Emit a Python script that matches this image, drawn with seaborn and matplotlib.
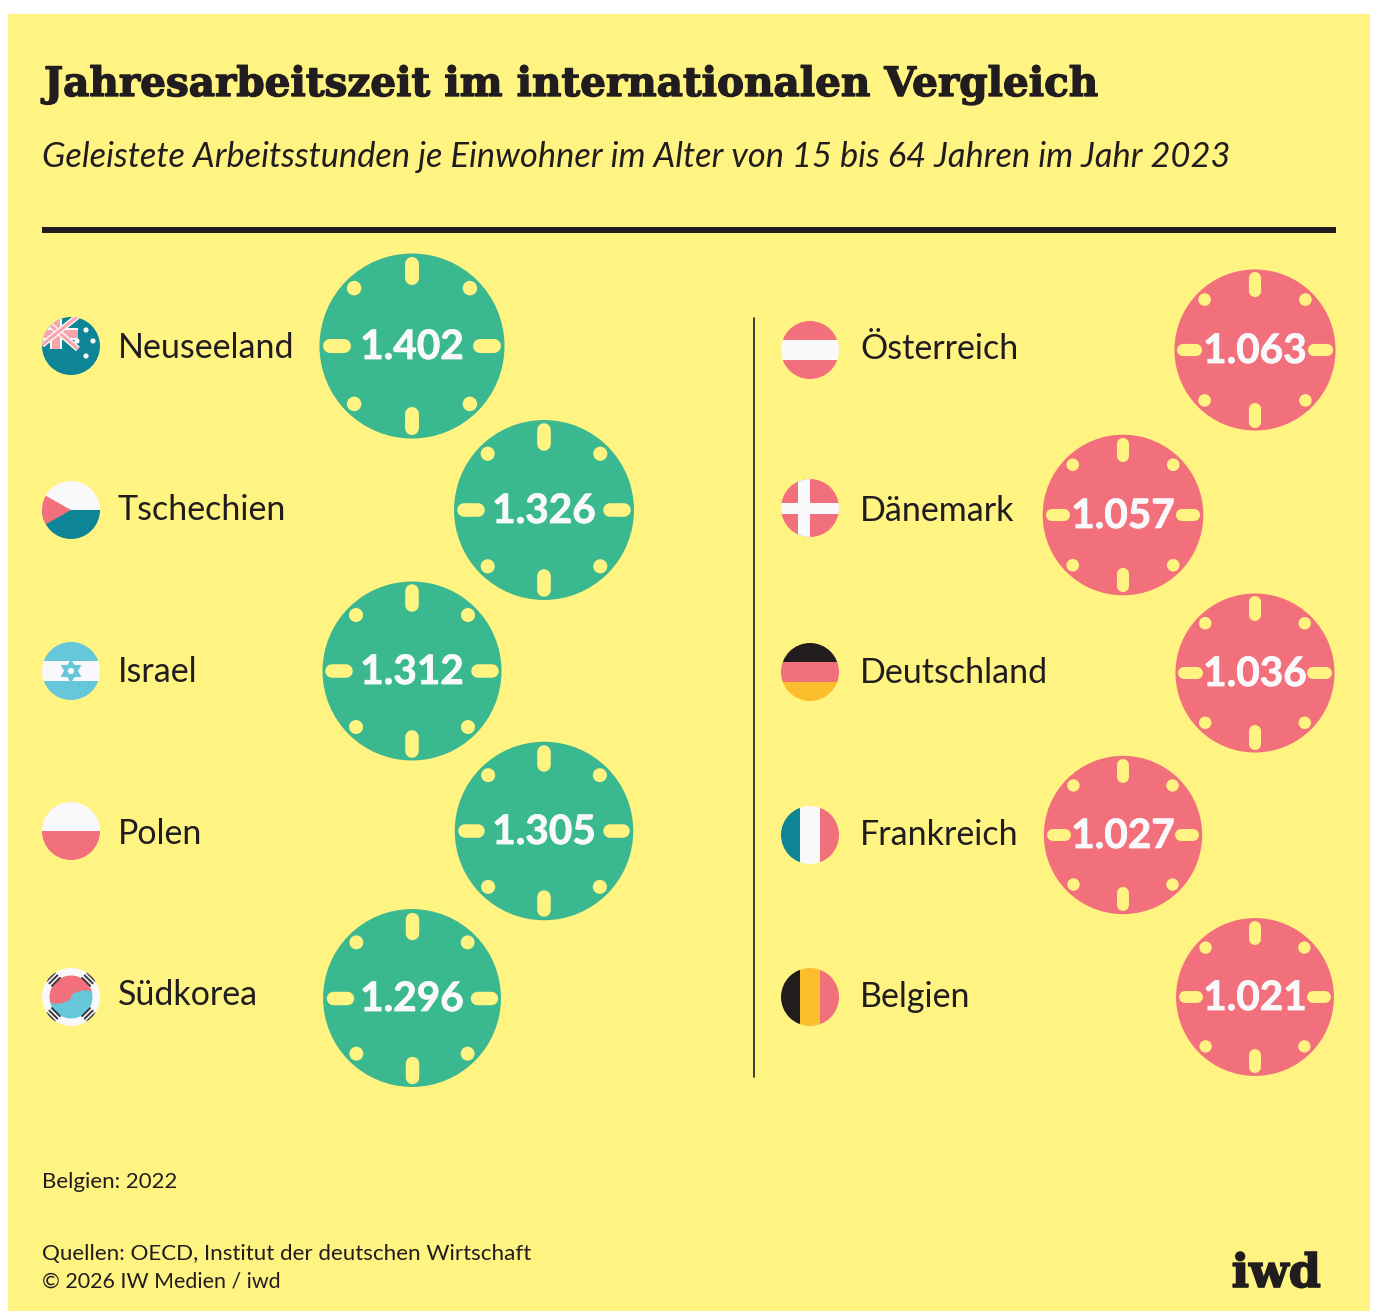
import numpy as np
import pandas as pd
import matplotlib.pyplot as plt
import matplotlib.patheffects as pe
from matplotlib.patches import Rectangle, Circle, Wedge, Polygon, RegularPolygon, Ellipse
import seaborn as sns

# --- data ---
countries_left = ["Neuseeland", "Tschechien", "Israel", "Polen", "Südkorea"]
hours_left = [1402, 1326, 1312, 1305, 1296]
countries_right = ["Österreich", "Dänemark", "Deutschland", "Frankreich", "Belgien"]
hours_right = [1063, 1057, 1036, 1027, 1021]

# --- layout (pixels of the 1375x1311 canvas) ---
BUBBLE_X_LEFT = [412, 544, 412, 544, 412]
BUBBLE_Y_LEFT = [346, 510, 671, 831, 998]
BUBBLE_X_RIGHT = [1255, 1123, 1255, 1123, 1255]
BUBBLE_Y_RIGHT = [350, 515, 673, 835, 997]
FLAG_Y_LEFT = [346, 510, 671, 831, 997]
FLAG_Y_RIGHT = [350, 508, 672, 835, 997]
LABEL_Y_LEFT = [358, 520, 682, 844, 1005]
LABEL_Y_RIGHT = [359, 521, 683, 845, 1007]
FLAG_X = {"left": 71, "right": 810}
LABEL_X = {"left": 118, "right": 860}
FLAG_R = 29

YELLOW = "#FFF382"
GREEN = "#3AB890"
RED = "#F26F7C"
TEAL = "#0E8596"
SKY = "#66C7DA"
PINK = "#F6A5AB"
INK = "#211D1F"
WHITE = "#F9F9FB"
GOLD = "#FDBE2E"
BODY_FONT = "Lato"


def pt(px):
    return px * 0.72


def stripes(ax, cx, cy, colors, clip, vertical=False):
    edges = np.linspace(-FLAG_R, FLAG_R, len(colors) + 1)
    for c, a, b in zip(colors, edges[:-1], edges[1:]):
        if vertical:
            r = Rectangle((cx + a, cy - FLAG_R), b - a, 2 * FLAG_R, fc=c, lw=0)
        else:
            r = Rectangle((cx - FLAG_R, cy + a), 2 * FLAG_R, b - a, fc=c, lw=0)
        ax.add_patch(r)
        r.set_clip_path(clip)


def draw_flag(ax, name, cx, cy):
    clip = Circle((cx, cy), FLAG_R, transform=ax.transData)

    def add(p):
        ax.add_patch(p)
        p.set_clip_path(clip)

    if name == "Neuseeland":
        stripes(ax, cx, cy, [TEAL], clip)
        # union jack: mostly pink with a thin white fringe
        for a, b in [((-29, -28), (7, 3)), ((-29, -1), (7, -30))]:
            ax.plot([cx + a[0], cx + b[0]], [cy + a[1], cy + b[1]], color=WHITE, lw=4.2, clip_path=clip,
                    solid_capstyle="butt")
            ax.plot([cx + a[0], cx + b[0]], [cy + a[1], cy + b[1]], color=PINK, lw=2.2, clip_path=clip,
                    solid_capstyle="butt")
        add(Rectangle((cx - 29, cy - 18), 36, 12, fc=WHITE, lw=0))
        add(Rectangle((cx - 21, cy - 30), 12, 33, fc=WHITE, lw=0))
        add(Rectangle((cx - 29, cy - 16), 36, 8, fc=PINK, lw=0))
        add(Rectangle((cx - 19, cy - 30), 8, 33, fc=PINK, lw=0))
        for dx, dy in [(15, -16), (6, -5), (22, -5), (15, 10)]:
            ax.add_patch(Circle((cx + dx, cy + dy), 2.6, fc=WHITE, lw=0))
    elif name == "Tschechien":
        stripes(ax, cx, cy, [WHITE, TEAL], clip)
        add(Polygon([(cx - 30, cy - 17), (cx, cy), (cx - 30, cy + 17)], fc=RED, lw=0))
    elif name == "Israel":
        stripes(ax, cx, cy, [SKY, WHITE, SKY], clip)
        for ang in [0, np.pi]:
            ax.add_patch(RegularPolygon((cx, cy), 3, radius=9, orientation=ang, fc="none", ec=SKY, lw=2.2))
    elif name == "Polen":
        stripes(ax, cx, cy, [WHITE, RED], clip)
    elif name == "Südkorea":
        stripes(ax, cx, cy, [WHITE], clip)
        ax.add_patch(Wedge((cx, cy), 21.5, -12, 168, fc=SKY, lw=0))
        ax.add_patch(Wedge((cx, cy), 21.5, 168, 348, fc=RED, lw=0))
        ax.add_patch(Ellipse((cx - 10.5, cy + 2.2), 21.5, 8, angle=-12, fc=RED, lw=0))
        ax.add_patch(Ellipse((cx + 10.5, cy - 2.2), 21.5, 8, angle=-12, fc=SKY, lw=0))
        for sx, sy in [(-1, -1), (1, -1), (-1, 1), (1, 1)]:
            for off in [21, 24.5, 28]:
                mx, my = cx + sx * off * 0.72, cy + sy * off * 0.72
                ax.plot([mx - sx * 4, mx + sx * 4], [my + sy * 4, my - sy * 4], color="#39393B", lw=1.4,
                        clip_path=clip)
    elif name == "Österreich":
        stripes(ax, cx, cy, [RED, WHITE, RED], clip)
    elif name == "Dänemark":
        stripes(ax, cx, cy, [RED], clip)
        add(Rectangle((cx - 29, cy - 5.5), 58, 11.5, fc=WHITE, lw=0))
        add(Rectangle((cx - 12, cy - 29), 12, 58, fc=WHITE, lw=0))
    elif name == "Deutschland":
        stripes(ax, cx, cy, [INK, RED, GOLD], clip)
    elif name == "Frankreich":
        stripes(ax, cx, cy, [TEAL, WHITE, RED], clip, vertical=True)
    elif name == "Belgien":
        stripes(ax, cx, cy, [INK, GOLD, RED], clip, vertical=True)


def draw_side(ax, side, names, hours, xs, ys, fys, lys, color):
    df = pd.DataFrame({"x": xs, "y": ys, "hours": hours})
    # circle area follows the hours; 1402 h gives a diameter of 185 px
    k = pt(185) ** 2 / 1402
    sns.scatterplot(data=df, x="x", y="y", size="hours", sizes={v: k * v for v in hours},
                    color=color, linewidth=0, legend=False, ax=ax, zorder=3)

    dots = []
    for x, y, v in zip(xs, ys, hours):
        R = 92.5 * np.sqrt(v / 1402)
        w = pt(14 * R / 92.5)
        for ang in np.arange(0, 2 * np.pi, np.pi / 2):
            # round caps add half the width on each end
            r0, r1 = 0.66 * R + 7 * R / 92.5, 0.965 * R - 7 * R / 92.5
            ax.plot([x + r0 * np.cos(ang), x + r1 * np.cos(ang)], [y + r0 * np.sin(ang), y + r1 * np.sin(ang)],
                    color=YELLOW, lw=w, solid_capstyle="round", zorder=4)
        for ang in np.arange(np.pi / 4, 2 * np.pi, np.pi / 2):
            dots.append((x + 0.885 * R * np.cos(ang), y + 0.885 * R * np.sin(ang), R))
        ax.text(x, y + 13, f"{v // 1000}.{v % 1000:03d}", color=WHITE, family=BODY_FONT, weight="bold",
                fontsize=pt(40.5), ha="center", va="baseline", zorder=5,
                path_effects=[pe.withStroke(linewidth=0.6, foreground=WHITE)])
    dots = pd.DataFrame(dots, columns=["x", "y", "R"])
    ax.scatter(dots["x"], dots["y"], s=(pt(14.5) * dots["R"] / 92.5) ** 2, color=YELLOW, linewidth=0, zorder=4)

    for name, fy, ly in zip(names, fys, lys):
        draw_flag(ax, name, FLAG_X[side], fy)
        ax.text(LABEL_X[side], ly, name, color=INK, family=BODY_FONT, fontsize=pt(34), va="baseline")


def main():
    sns.set_theme(style="white")
    fig = plt.figure(figsize=(13.75, 13.11), dpi=100, facecolor="white")
    ax = fig.add_axes([0, 0, 1, 1])
    ax.set_xlim(0, 1375)
    ax.set_ylim(1311, 0)
    ax.set_axis_off()

    ax.add_patch(Rectangle((8, 14), 1362, 1297, fc=YELLOW, lw=0, zorder=0))

    ax.text(44, 96, "Jahresarbeitszeit im internationalen Vergleich", color=INK, family="DejaVu Serif",
            weight="bold", fontsize=pt(40.5), va="baseline",
            path_effects=[pe.withStroke(linewidth=1.0, foreground=INK)])
    ax.text(42, 167, "Geleistete Arbeitsstunden je Einwohner im Alter von 15 bis 64 Jahren im Jahr 2023", color=INK,
            family=BODY_FONT, style="italic", fontsize=pt(34.4), va="baseline")
    ax.add_patch(Rectangle((42, 227), 1294, 6, fc=INK, lw=0))
    ax.plot([754, 754], [318, 1077], color=INK, lw=1.2)

    draw_side(ax, "left", countries_left, hours_left, BUBBLE_X_LEFT, BUBBLE_Y_LEFT, FLAG_Y_LEFT, LABEL_Y_LEFT, GREEN)
    draw_side(ax, "right", countries_right, hours_right, BUBBLE_X_RIGHT, BUBBLE_Y_RIGHT, FLAG_Y_RIGHT, LABEL_Y_RIGHT, RED)
    ax.set_xlim(0, 1375)
    ax.set_ylim(1311, 0)
    ax.set_axis_off()

    ax.text(42, 1188, "Belgien: 2022", color=INK, family=BODY_FONT, fontsize=pt(22.3), va="baseline")
    ax.text(42, 1260, "Quellen: OECD, Institut der deutschen Wirtschaft", color=INK, family=BODY_FONT,
            fontsize=pt(22.4), va="baseline")
    ax.text(42, 1288, "© 2026 IW Medien / iwd", color=INK, family=BODY_FONT, fontsize=pt(21.4), va="baseline")
    ax.text(1321, 1287, "iwd", color=INK, family="DejaVu Serif", weight="bold", fontsize=pt(46), ha="right",
            va="baseline", path_effects=[pe.withStroke(linewidth=1.2, foreground=INK)])

    fig.savefig("out.png", dpi=100, facecolor="white")


if __name__ == "__main__":
    main()
